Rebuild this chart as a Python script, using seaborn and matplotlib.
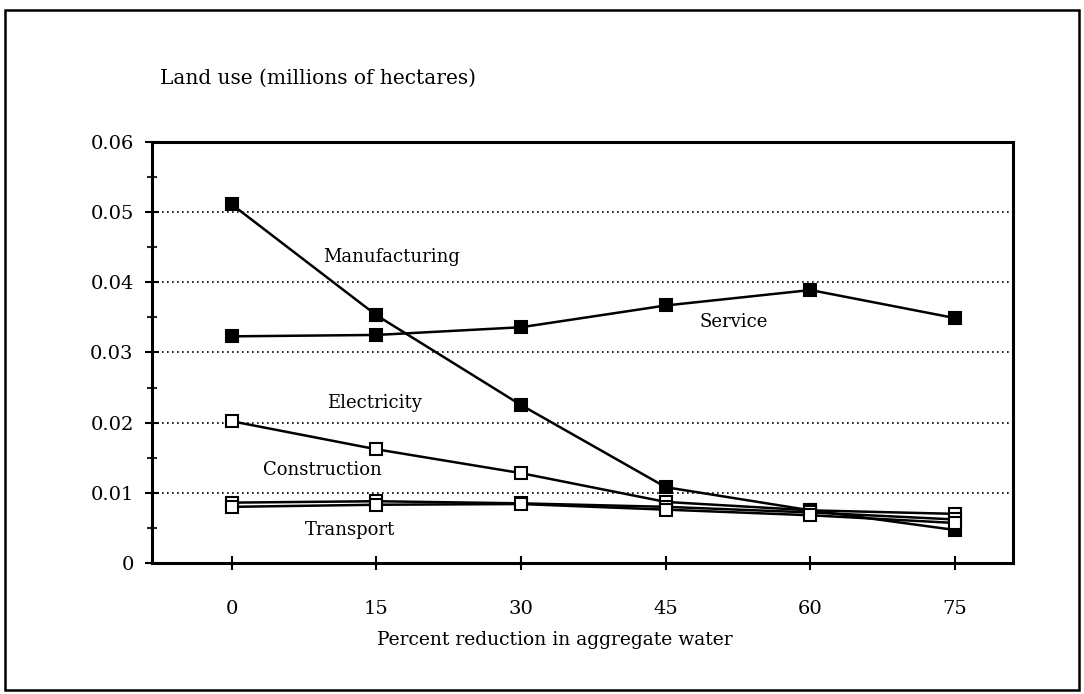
import matplotlib
matplotlib.use("Agg")
import matplotlib.pyplot as plt
from matplotlib.patches import Rectangle
from matplotlib.ticker import MultipleLocator
import seaborn as sns
import pandas as pd

reduction = [0, 15, 30, 45, 60, 75]
manufacturing = [0.0511, 0.0353, 0.0225, 0.0108, 0.0075, 0.0047]
service = [0.0323, 0.0325, 0.0336, 0.0367, 0.0389, 0.0349]
electricity = [0.0202, 0.0162, 0.0128, 0.0087, 0.0075, 0.0070]
construction = [0.0086, 0.0088, 0.0085, 0.0080, 0.0072, 0.0062]
transport = [0.0080, 0.0083, 0.0084, 0.0076, 0.0068, 0.0057]
y_ticks = [0, 0.01, 0.02, 0.03, 0.04, 0.05, 0.06]
y_tick_labels = ["0", "0.01", "0.02", "0.03", "0.04", "0.05", "0.06"]

series = {
    "Manufacturing": (manufacturing, "black"),
    "Service": (service, "black"),
    "Electricity": (electricity, "white"),
    "Construction": (construction, "white"),
    "Transport": (transport, "white"),
}

sns.set_style("white")
plt.rcParams["font.family"] = ["DejaVu Serif"]
plt.rcParams["text.color"] = "black"

fig = plt.figure(figsize=(10.84, 6.94), dpi=100)
ax = fig.add_axes([0.140, 0.1888, 0.7945, 0.6066])

for name, (vals, face) in series.items():
    df = pd.DataFrame({"x": reduction, "y": vals})
    sns.lineplot(data=df, x="x", y="y", ax=ax, color="black", linewidth=1.8,
                 marker="s", markersize=8, markerfacecolor=face,
                 markeredgecolor="black", markeredgewidth=1.5)

ax.set_xlim(-8.3, 81)
ax.set_ylim(0, 0.06)
ax.set_xticks(reduction)
ax.set_yticks(y_ticks)
ax.set_yticklabels(y_tick_labels)
ax.yaxis.set_minor_locator(MultipleLocator(0.005))
ax.tick_params(axis="both", which="major", direction="inout", length=10, width=1.5,
               labelsize=14, colors="black", left=True, bottom=True)
ax.tick_params(axis="y", which="minor", direction="inout", length=7, width=1.5, left=True)
ax.tick_params(axis="x", pad=22)
ax.tick_params(axis="y", pad=8)

for y in [0.01, 0.02, 0.03, 0.04, 0.05]:
    ax.axhline(y, color="black", linestyle=(0, (1, 2)), linewidth=1.2, zorder=0)

for side in ax.spines.values():
    side.set_color("black")
    side.set_linewidth(2.2)

ax.set_xlabel("")
ax.set_ylabel("")
fig.text(555 / 1084, 1 - 640 / 694, "Percent reduction in aggregate water",
         fontsize=13.5, ha="center", va="center", color="black")

ax.text(16.6, 0.0436, "Manufacturing", fontsize=13, ha="center", va="center", color="black")
ax.text(52.0, 0.0343, "Service", fontsize=13, ha="center", va="center", color="black")
ax.text(14.8, 0.0228, "Electricity", fontsize=13, ha="center", va="center", color="black")
ax.text(9.4, 0.0132, "Construction", fontsize=13, ha="center", va="center", color="black")
ax.text(12.3, 0.0047, "Transport", fontsize=13, ha="center", va="center", color="black")

fig.text(160 / 1084, 1 - 78 / 694, "Land use (millions of hectares)", fontsize=14.5,
         ha="left", va="center", color="black")

fig.patches.append(Rectangle((5 / 1084, 4 / 694), 1074 / 1084, 680 / 694,
                             transform=fig.transFigure, fill=False,
                             edgecolor="black", linewidth=1.8))

plt.savefig("out.png", dpi=100)
plt.close()
